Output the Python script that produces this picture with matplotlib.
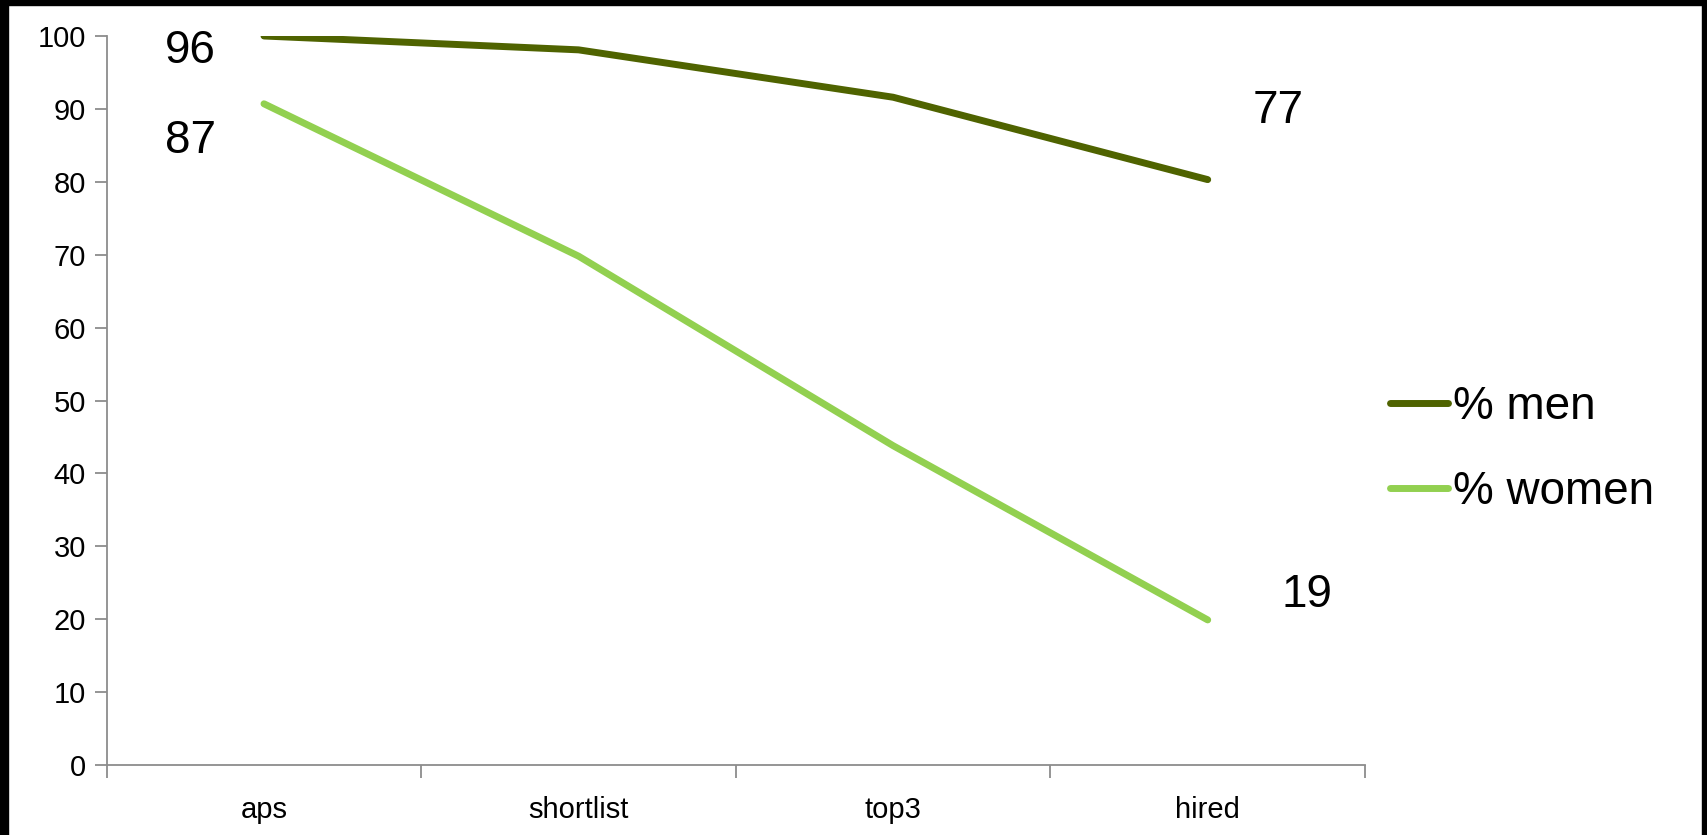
import matplotlib
matplotlib.use("Agg")
import matplotlib.pyplot as plt
from matplotlib.patches import Rectangle

plt.rcParams['font.family'] = ['Liberation Sans', 'DejaVu Sans']

# data
stages = ['aps', 'shortlist', 'top3', 'hired']
men = [100, 98.1, 91.6, 80.3]
women = [90.7, 69.8, 43.8, 19.9]
label_text = ['96', '87', '77', '19']

# label placement (data coords, baseline)
label_x = [-0.233, -0.233, 3.223, 3.315]
label_y = [96.3, 83.9, 88.1, 21.7]

men_color = '#4F6300'
women_color = '#92D050'
axis_gray = '#8C8C8C'

W, H = 1708, 835
fig = plt.figure(figsize=(W / 100, H / 100), dpi=100)
ax = fig.add_axes([106.7 / W, 1 - 765 / H, (1365 - 106.7) / W, (765 - 36) / H])

x = list(range(len(stages)))
ax.plot(x, men, color=men_color, lw=5, solid_capstyle='round', label='% men')
ax.plot(x, women, color=women_color, lw=5, solid_capstyle='round', label='% women')

ax.set_xlim(-0.5, len(stages) - 0.5)
ax.set_ylim(0, 100)
ax.set_yticks(range(0, 101, 10))
ax.set_xticks(x)
ax.set_xticklabels(stages)
ax.set_xticks([i - 0.5 for i in range(len(stages) + 1)], minor=True)
ax.tick_params(axis='x', which='major', length=0, pad=22, labelsize=21)
ax.tick_params(axis='x', which='minor', length=9, width=1.3, color=axis_gray)
ax.tick_params(axis='y', length=9, width=1.3, color=axis_gray, labelsize=21, pad=6)

for side in ['top', 'right']:
    ax.spines[side].set_visible(False)
for side in ['left', 'bottom']:
    ax.spines[side].set_color(axis_gray)
    ax.spines[side].set_linewidth(1.3)

for t, lx, ly in zip(label_text, label_x, label_y):
    ax.text(lx, ly, t, fontsize=33, ha='center', va='baseline')

fig.legend(loc='center left', bbox_to_anchor=(1390 / W, 1 - 449.5 / H),
           frameon=False, fontsize=33, handlelength=1.27, handletextpad=0.1,
           borderpad=0, borderaxespad=0, labelspacing=0.9)

# black frame around the picture
fig.patches.append(Rectangle((0, 0), 8 / W, 1, transform=fig.transFigure, color='black'))
fig.patches.append(Rectangle((0, 1 - 5 / H), 1, 5 / H, transform=fig.transFigure, color='black'))
fig.patches.append(Rectangle((1 - 6 / W, 0), 6 / W, 1, transform=fig.transFigure, color='black'))

fig.savefig('out.png', dpi=100)
